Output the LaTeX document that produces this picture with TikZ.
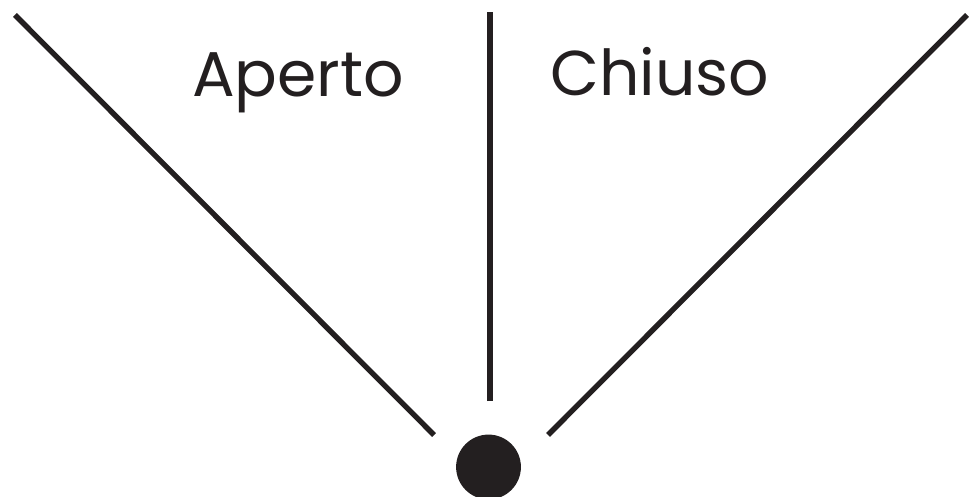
\documentclass[tikz,border=0pt]{standalone}
\usepackage{fontspec}
\setmainfont{Poppins}
\usepackage{tikz}
\usetikzlibrary{positioning}
\definecolor{inkblack}{RGB}{35, 31, 32}

\begin{document}
\begin{tikzpicture}[x=0.025cm, y=-0.025cm,
    ray/.style={draw=inkblack, line width=3.8pt},
    pivot/.style={circle, fill=inkblack, inner sep=0pt, minimum size=1.62cm},
    label/.style={text=inkblack, font=\fontsize{45}{52}\selectfont, anchor=base}
]
    \useasboundingbox (0,0) rectangle (977,497);
    \node[pivot] (dot) at (488.5,467) {};
    \coordinate (lefttop) at (15,15);
    \coordinate (leftend) at (434,435);
    \coordinate (midtop) at (490,12);
    \coordinate (midend) at (490,401);
    \coordinate (righttop) at (967,15);
    \coordinate (rightend) at (548,435);
    \draw[ray] (leftend) -- (lefttop);
    \draw[ray] (midend) -- (midtop);
    \draw[ray] (rightend) -- (righttop);
    \node[label] (open) at (298,97) {Aperto};
    \node[label] (closed) at (660,96) {Chiuso};
\end{tikzpicture}
\end{document}
